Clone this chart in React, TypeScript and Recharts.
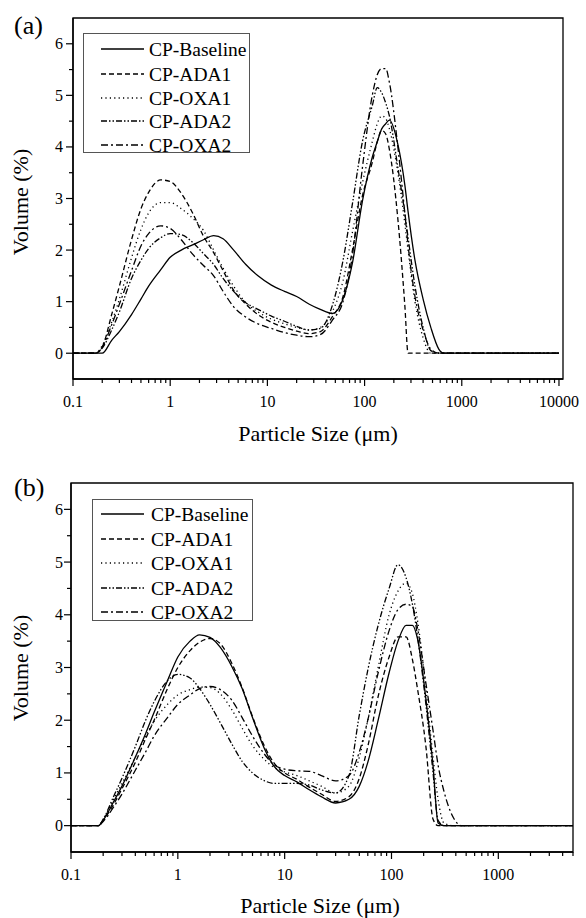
import { LineChart, Line, XAxis, YAxis, ReferenceArea, Legend } from "recharts";

const FONT = "'Liberation Serif', 'Times New Roman', serif";
const serif = { fontFamily: FONT };

// series in legend order
const seriesNames = ["CP-Baseline", "CP-ADA1", "CP-OXA1", "CP-ADA2", "CP-OXA2"];
const seriesKeys = ["base", "ada1", "oxa1", "ada2", "oxa2"];
const seriesDash = [undefined, "5 3", "1.2 3.2", "6 2 1.5 2 1.5 2", "7 3 2 3"];

// panel (a): particle size (µm) and volume (%)
const xA = [0.1, 0.17, 0.2, 0.25, 0.3, 0.4, 0.5, 0.6, 0.8, 1, 1.3, 1.7, 2.2, 2.8, 3.5, 4.5, 6, 8, 11, 15, 20, 27, 35, 47, 60, 75, 95, 120, 135, 150, 165, 180, 220, 260, 280, 330, 400, 480, 580, 650, 10000];
const aBase = [0, 0, 0, 0.25, 0.42, 0.75, 1.05, 1.3, 1.62, 1.86, 2.0, 2.1, 2.2, 2.28, 2.22, 2.0, 1.72, 1.5, 1.32, 1.2, 1.1, 0.95, 0.85, 0.77, 1.05, 1.75, 2.95, 3.8, 4.1, 4.35, 4.45, 4.52, 4.05, 3.25, 2.75, 1.8, 1.05, 0.5, 0.08, 0, 0];
const aAda1 = [0, 0, 0.12, 0.75, 1.3, 2.2, 2.8, 3.12, 3.36, 3.33, 3.1, 2.72, 2.27, 1.95, 1.6, 1.22, 0.95, 0.75, 0.6, 0.5, 0.43, 0.38, 0.42, 0.72, 1.1, 2.0, 3.05, 3.7, 4.1, 4.32, 4.25, 3.95, 2.6, 0.9, 0, 0, 0, 0, 0, 0, 0];
const aOxa1 = [0, 0, 0.15, 0.6, 1.05, 1.85, 2.4, 2.72, 2.92, 2.92, 2.8, 2.62, 2.38, 2.0, 1.65, 1.3, 0.98, 0.8, 0.66, 0.57, 0.5, 0.45, 0.5, 0.82, 1.4, 2.35, 3.3, 4.1, 4.45, 4.6, 4.55, 4.35, 3.5, 2.5, 2.0, 1.0, 0.3, 0, 0, 0, 0];
const aAda2 = [0, 0, 0.1, 0.45, 0.8, 1.45, 1.8, 2.03, 2.24, 2.32, 2.3, 2.15, 1.93, 1.72, 1.45, 1.2, 0.98, 0.85, 0.72, 0.62, 0.52, 0.45, 0.48, 0.95, 1.8, 2.9, 4.1, 4.8, 5.15, 5.05, 4.85, 4.6, 3.6, 2.7, 2.25, 1.3, 0.5, 0.05, 0, 0, 0];
const aOxa2 = [0, 0, 0.12, 0.55, 0.95, 1.6, 2.08, 2.32, 2.47, 2.42, 2.2, 1.92, 1.7, 1.5, 1.2, 0.9, 0.7, 0.57, 0.48, 0.4, 0.35, 0.32, 0.36, 0.65, 1.0, 1.9, 3.6, 5.0, 5.4, 5.52, 5.52, 5.25, 4.0, 2.7, 2.1, 1.1, 0.45, 0.08, 0, 0, 0];

// panel (b)
const xB = [0.1, 0.18, 0.2, 0.25, 0.3, 0.4, 0.5, 0.6, 0.8, 1, 1.3, 1.6, 2, 2.5, 3.2, 4, 5, 6.5, 8, 10, 13, 17, 22, 30, 40, 50, 60, 75, 95, 115, 137, 157, 175, 210, 245, 273, 310, 380, 450, 5000];
const bBase = [0, 0, 0.1, 0.45, 0.75, 1.3, 1.75, 2.15, 2.75, 3.2, 3.5, 3.62, 3.57, 3.38, 3.02, 2.6, 2.05, 1.45, 1.12, 0.95, 0.83, 0.68, 0.55, 0.43, 0.5, 0.75, 1.2, 2.0, 2.9, 3.5, 3.8, 3.8, 3.55, 2.4, 1.13, 0.05, 0, 0, 0, 0];
const bAda1 = [0, 0, 0.1, 0.4, 0.7, 1.2, 1.65, 2.0, 2.6, 3.0, 3.32, 3.48, 3.55, 3.45, 3.08, 2.62, 2.07, 1.5, 1.18, 1.0, 0.88, 0.73, 0.6, 0.46, 0.55, 0.9, 1.5, 2.45, 3.2, 3.58, 3.58, 3.15, 2.6, 1.5, 0.12, 0, 0, 0, 0, 0];
const bOxa1 = [0, 0, 0.12, 0.5, 0.8, 1.3, 1.7, 1.98, 2.3, 2.48, 2.58, 2.63, 2.62, 2.5, 2.2, 1.85, 1.52, 1.25, 1.1, 1.02, 0.95, 0.85, 0.75, 0.62, 0.75, 1.3, 2.0, 3.0, 4.0, 4.45, 4.6, 4.4, 3.9, 2.6, 1.3, 0.5, 0.05, 0, 0, 0];
const bAda2 = [0, 0, 0.12, 0.55, 0.9, 1.5, 2.0, 2.35, 2.75, 2.87, 2.8, 2.6, 2.3, 1.95, 1.55, 1.22, 1.0, 0.85, 0.8, 0.8, 0.8, 0.77, 0.68, 0.62, 0.95, 2.1, 2.95, 3.8, 4.5, 4.95, 4.7, 4.2, 3.6, 2.3, 1.0, 0.1, 0, 0, 0, 0];
const bOxa2 = [0, 0, 0.08, 0.35, 0.6, 1.05, 1.4, 1.7, 2.05, 2.3, 2.48, 2.6, 2.64, 2.58, 2.38, 2.05, 1.7, 1.35, 1.15, 1.07, 1.04, 1.03, 0.95, 0.85, 0.95, 1.4, 2.0, 2.9, 3.7, 4.1, 4.2, 4.15, 3.75, 2.7, 1.8, 1.15, 0.65, 0.15, 0, 0];

// axes
const xMajorA = [0.1, 1, 10, 100, 1000, 10000];
const xMajorB = [0.1, 1, 10, 100, 1000];
const yTicks = [0, 0.5, 1, 1.5, 2, 2.5, 3, 3.5, 4, 4.5, 5, 5.5, 6];

const buildRows = (xs: number[], cols: number[][]) =>
  xs.map((x, i) => {
    const row: Record<string, number> = { x };
    seriesKeys.forEach((k, j) => (row[k] = cols[j][i]));
    return row;
  });

const dataA = buildRows(xA, [aBase, aAda1, aOxa1, aAda2, aOxa2]);
const dataB = buildRows(xB, [bBase, bAda1, bOxa1, bAda2, bOxa2]);

// log ticks: majors plus 2..9 minors, up to xMax
const logTicks = (majors: number[], xMax: number) => {
  const out: number[] = [];
  majors.forEach((d) => {
    out.push(d);
    for (let m = 2; m <= 9; m++) if (d * m <= xMax * 1.0001) out.push(d * m);
  });
  return out;
};

const makeXTick = (majors: number[]) => (props: any) => {
  const { x, y, payload } = props;
  const major = majors.includes(payload.value);
  return (
    <g>
      <line x1={x} x2={x} y1={y} y2={y + (major ? 7 : 4)} stroke="#000" strokeWidth={1.2} />
      {major && (
        <text x={x} y={y + 28} textAnchor="middle" style={serif} fontSize={16} fill="#000">
          {payload.value}
        </text>
      )}
    </g>
  );
};

const makeYTick = (gap: number) => (props: any) => {
  const { x, y, payload } = props;
  const major = Number.isInteger(payload.value);
  return (
    <g>
      <line x1={x - (major ? 7 : 4)} x2={x} y1={y} y2={y} stroke="#000" strokeWidth={1.2} />
      {major && (
        <text x={x - gap} y={y + 5.5} textAnchor="end" style={serif} fontSize={16} fill="#000">
          {payload.value}
        </text>
      )}
    </g>
  );
};

type LegendLayout = { left: number; top: number; width: number; height: number; rows: number[]; line: [number, number]; textX: number };

const LegendBox = ({ lay }: { lay: LegendLayout }) => (
  <div style={{ width: lay.width, height: lay.height, border: "1px solid #555", boxSizing: "border-box", background: "#fff" }}>
    <svg width={lay.width - 2} height={lay.height - 2} style={{ display: "block", overflow: "visible" }}>
      {seriesNames.map((name, i) => (
        <g key={name}>
          <line x1={lay.line[0]} x2={lay.line[1]} y1={lay.rows[i]} y2={lay.rows[i]} stroke="#000" strokeWidth={1.3} strokeDasharray={seriesDash[i]} />
          <text x={lay.textX} y={lay.rows[i] + 6.5} style={serif} fontSize={19.5} fill="#000">
            {name}
          </text>
        </g>
      ))}
    </svg>
  </div>
);

type PanelProps = {
  data: Record<string, number>[];
  height: number;
  xMax: number;
  majors: number[];
  margin: { top: number; right: number; left: number; bottom: number };
  yGap: number;
  legend: LegendLayout;
};

function Panel({ data, height, xMax, majors, margin, yGap, legend }: PanelProps) {
  return (
    <LineChart width={586} height={height} data={data} margin={margin} style={serif}>
      <XAxis
        dataKey="x"
        type="number"
        scale="log"
        domain={[0.1, xMax]}
        allowDataOverflow
        ticks={logTicks(majors, xMax)}
        interval={0}
        tickSize={0}
        tickMargin={0}
        tickLine={false}
        tick={makeXTick(majors)}
        height={40}
        axisLine={{ stroke: "#000", strokeWidth: 1.4 }}
      />
      <YAxis
        type="number"
        domain={[-0.5, 6.5]}
        allowDataOverflow
        ticks={yTicks}
        interval={0}
        tickSize={0}
        tickMargin={0}
        tickLine={false}
        tick={makeYTick(yGap)}
        width={40}
        axisLine={{ stroke: "#000", strokeWidth: 1.4 }}
      />
      <ReferenceArea x1={0.1} x2={xMax} y1={-0.5} y2={6.5} fill="none" stroke="#000" strokeWidth={1.3} ifOverflow="visible" />
      {seriesKeys.map((k, i) => (
        <Line
          key={k}
          dataKey={k}
          name={seriesNames[i]}
          type="monotone"
          stroke="#000"
          strokeWidth={1.3}
          strokeDasharray={seriesDash[i]}
          dot={false}
          activeDot={false}
          isAnimationActive={false}
        />
      ))}
      <Legend
        layout="vertical"
        align="center"
        verticalAlign="middle"
        wrapperStyle={{ left: legend.left, top: legend.top, width: legend.width, height: legend.height }}
        content={() => <LegendBox lay={legend} />}
      />
    </LineChart>
  );
}

export default function App() {
  return (
    <div style={{ position: "absolute", left: 0, top: 0, width: 586, height: 918, background: "#fff", ...serif }}>
      <div style={{ position: "absolute", left: 0, top: 0 }}>
        <Panel
          data={dataA}
          height={440}
          xMax={11000}
          majors={xMajorA}
          margin={{ top: 18, right: 23, left: 33, bottom: 21 }}
          yGap={10}
          legend={{ left: 83, top: 33, width: 167, height: 120, rows: [15, 40, 64, 87, 111], line: [17, 60], textX: 65 }}
        />
      </div>
      <div style={{ position: "absolute", left: 0, top: 460 }}>
        <Panel
          data={dataB}
          height={458}
          xMax={5000}
          majors={xMajorB}
          margin={{ top: 23, right: 13, left: 31, bottom: 26 }}
          yGap={8}
          legend={{ left: 92, top: 39, width: 161, height: 122, rows: [14, 39, 63, 88, 112], line: [8, 51], textX: 58 }}
        />
      </div>
      <svg width={586} height={918} style={{ position: "absolute", left: 0, top: 0, pointerEvents: "none", ...serif }}>
        <g fill="#000">
          <text x={14} y={34} fontSize={26}>(a)</text>
          <text x={14} y={496} fontSize={26}>(b)</text>
          <text x={318} y={441} fontSize={22} textAnchor="middle">Particle Size (μm)</text>
          <text x={320} y={913} fontSize={22} textAnchor="middle">Particle Size (μm)</text>
          <text transform="translate(28,202) rotate(-90)" fontSize={22} textAnchor="middle">Volume (%)</text>
          <text transform="translate(28,668) rotate(-90)" fontSize={22} textAnchor="middle">Volume (%)</text>
        </g>
      </svg>
    </div>
  );
}
